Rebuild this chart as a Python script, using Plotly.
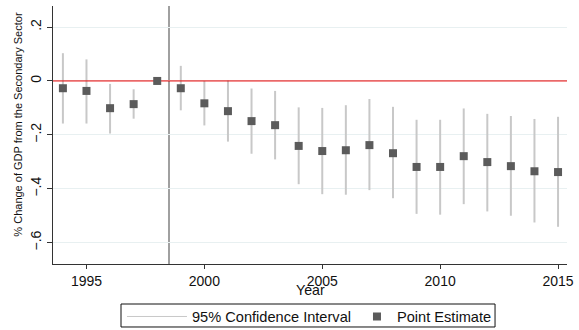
import plotly.graph_objects as go

years = [1994, 1995, 1996, 1997, 1998, 1999, 2000, 2001, 2002, 2003, 2004,
         2005, 2006, 2007, 2008, 2009, 2010, 2011, 2012, 2013, 2014, 2015]
estimates = [-0.027, -0.037, -0.101, -0.086, 0.0, -0.027, -0.083, -0.112, -0.149,
             -0.164, -0.241, -0.260, -0.257, -0.238, -0.268, -0.319, -0.319,
             -0.279, -0.301, -0.316, -0.335, -0.338]
ci_high = [0.103, 0.080, -0.011, -0.031, None, 0.056, 0.0, 0.002, -0.028, -0.037,
           -0.098, -0.100, -0.090, -0.067, -0.096, -0.144, -0.144, -0.102,
           -0.122, -0.130, -0.141, -0.133]
ci_low = [-0.158, -0.158, -0.195, -0.140, None, -0.109, -0.165, -0.225, -0.270,
          -0.291, -0.383, -0.420, -0.422, -0.405, -0.435, -0.493, -0.496,
          -0.457, -0.484, -0.500, -0.525, -0.541]
policy_year = 1998.5
y_ticks = [0.2, 0.0, -0.2, -0.4, -0.6]
y_tick_text = [".2", "0", "\u2212.2", "\u2212.4", "\u2212.6"]
x_ticks = [1995, 2000, 2005, 2010, 2015]
x_range = [1993.58, 2015.38]
y_range = [-0.679, 0.278]

ci_x, ci_y = [], []
for yr, lo, hi in zip(years, ci_low, ci_high):
    if lo is None:
        continue
    ci_x += [yr, yr, None]
    ci_y += [lo, hi, None]

font = "Liberation Sans, Arial, sans-serif"
CI_COLOR = "#c8c8c8"
fig = go.Figure()
fig.add_trace(go.Scatter(x=ci_x, y=ci_y, mode="lines",
                         line=dict(color=CI_COLOR, width=2),
                         name="95% Confidence Interval", showlegend=False,
                         legendgroup="ci"))
# legend entry for the confidence interval (thin line sample)
fig.add_trace(go.Scatter(x=[None], y=[None], mode="lines",
                         line=dict(color=CI_COLOR, width=1),
                         name="95% Confidence Interval", legendgroup="ci",
                         legend="legend"))
fig.add_trace(go.Scatter(x=x_range, y=[0, 0], mode="lines",
                         line=dict(color="#e60000", width=1),
                         showlegend=False, hoverinfo="skip"))
fig.add_trace(go.Scatter(x=years, y=estimates, mode="markers",
                         marker=dict(symbol="square", size=8, color="#5b5b5b"),
                         name="Point Estimate", legend="legend2"))
fig.add_shape(type="line", x0=policy_year, x1=policy_year, y0=0, y1=1,
              xref="x", yref="y domain", line=dict(color="#a0a0a0", width=2),
              layer="below")
# legend frame (paper area spans the full height below the top margin)
fig.add_shape(type="rect", xref="paper", yref="paper",
              x0=0.1323, x1=0.86, y0=0.0093, y1=0.0802,
              line=dict(color="#111111", width=1), fillcolor="rgba(0,0,0,0)")
fig.add_annotation(text="% Change of GDP from the Secondary Sector",
                   xref="paper", yref="paper", x=-0.068, y=0.634,
                   xanchor="center", yanchor="middle",
                   textangle=-90, showarrow=False,
                   font=dict(size=11, family=font, color="#111111"))
fig.add_annotation(text="Year", xref="paper", yref="paper", x=0.5, y=0.1235,
                   xanchor="center", yanchor="middle", showarrow=False,
                   font=dict(size=14.2, family=font, color="#111111"))

legend_common = dict(orientation="h", yanchor="middle", y=0.0417,
                     xanchor="left", bgcolor="rgba(0,0,0,0)", borderwidth=0,
                     font=dict(size=14.6, family=font, color="#111111"))
fig.update_layout(
    width=579, height=330,
    margin=dict(l=53, r=12, t=6, b=0, autoexpand=False),
    paper_bgcolor="white", plot_bgcolor="white",
    font=dict(family=font, size=13, color="#111111"),
    showlegend=True,
    legend=dict(x=0.1342, itemwidth=60, **legend_common),
    legend2=dict(x=0.5914, itemwidth=30, **legend_common),
    xaxis=dict(range=x_range, tickvals=x_ticks, showgrid=False, zeroline=False,
               showline=True, linecolor="#333333", linewidth=1,
               ticks="outside", ticklen=4, tickcolor="#333333",
               tickfont=dict(size=14), automargin=False),
    yaxis=dict(range=y_range, tickvals=y_ticks, ticktext=y_tick_text,
               domain=[0.2037, 1.0],
               tickangle=-90, showgrid=True, gridcolor="#e8f0f1", gridwidth=1,
               zeroline=False, showline=True, linecolor="#333333", linewidth=1,
               ticks="outside", ticklen=5, tickcolor="#333333",
               tickfont=dict(size=14), automargin=False),
)
fig.write_html(
    "out.html",
    config={"displayModeBar": False},
    post_script="document.body.style.margin='0';"
                "document.body.style.overflow='hidden';",
)
